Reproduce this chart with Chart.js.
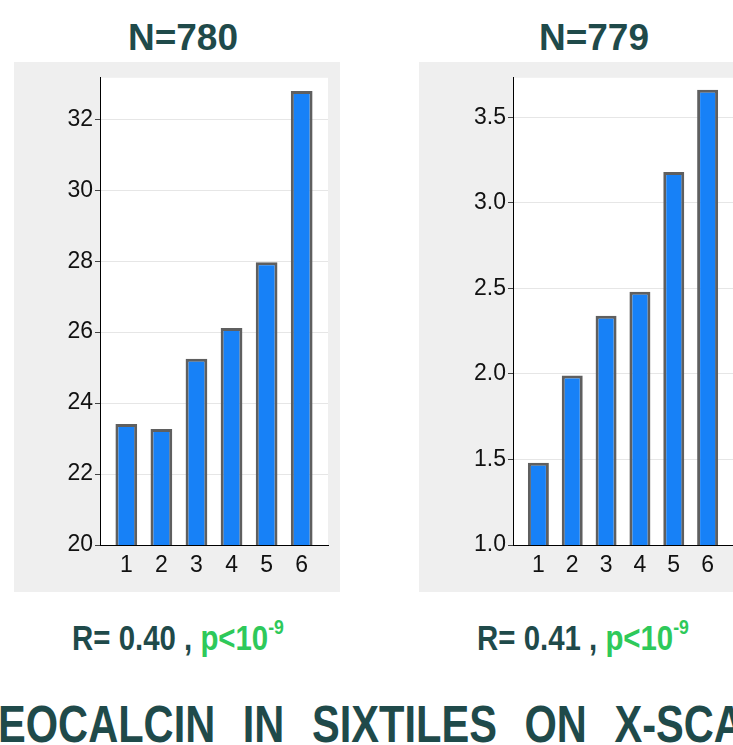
<!DOCTYPE html>
<html>
<head>
<meta charset="utf-8">
<script src="https://cdn.jsdelivr.net/npm/chart.js@4/dist/chart.umd.min.js"></script>
<style>
  html, body { margin: 0; padding: 0; }
  body { width: 733px; height: 745px; overflow: hidden; position: relative; background: #fff;
         font-family: "Liberation Sans", Arial, sans-serif; }
  canvas.panel { position: absolute; top: 62px; background: #efefef; }
  .title { position: absolute; top: 19px; width: 200px; text-align: center; font-weight: bold;
           font-size: 37px; line-height: 37px; color: #1f4a4a; white-space: nowrap; }
  .stat { position: absolute; top: 620px; width: 300px; text-align: center; font-weight: bold;
          font-size: 35px; line-height: 35px; color: #1f4a4a; white-space: nowrap;
          transform: scaleX(0.84); transform-origin: center; }
  .stat .p { color: #2ec95a; }
  .stat sup { font-size: 0.6em; position: relative; top: -0.15em; line-height: 0; vertical-align: super; }
  .caption { position: absolute; left: -2px; top: 698px; font-weight: bold; font-size: 52px; line-height: 52px;
             color: #1f4a4a; white-space: nowrap; word-spacing: 20px;
             transform: scaleX(0.8); transform-origin: left center; }
</style>
</head>
<body>
<div class="title" style="left:83px;">N=780</div>
<div class="title" style="left:494px;">N=779</div>

<canvas id="chartLeft" class="panel" width="326" height="530" style="left:14px;"></canvas>
<canvas id="chartRight" class="panel" width="326" height="530" style="left:419px;"></canvas>

<div class="stat" style="left:28px;">R= 0.40 , <span class="p">p&lt;10<sup>-9</sup></span></div>
<div class="stat" style="left:433px;">R= 0.41 , <span class="p">p&lt;10<sup>-9</sup></span></div>

<div class="caption">EOCALCIN IN SIXTILES ON X-SCAN</div>

<script>
// Sixtile index on the x axis
const categories = [1, 2, 3, 4, 5, 6];

// Mean values per sixtile, left panel (N=780)
const valuesLeft = [23.41, 23.27, 25.25, 26.12, 27.97, 32.80];
const ticksLeft = [20, 22, 24, 26, 28, 30, 32];

// Mean values per sixtile, right panel (N=779)
const valuesRight = [1.48, 1.99, 2.34, 2.48, 3.18, 3.66];
const ticksRight = [1.0, 1.5, 2.0, 2.5, 3.0, 3.5];

const tickFont = { family: '"Liberation Sans", Arial, sans-serif', size: 23 };

// Paints the plot area white on top of the grey panel
const plotBackground = {
  id: 'plotBackground',
  beforeDraw(chart) {
    const { ctx, chartArea: a } = chart;
    ctx.save();
    ctx.fillStyle = '#ffffff';
    ctx.fillRect(a.left, a.top, a.right - a.left, a.bottom - a.top);
    ctx.restore();
  }
};

function buildChart(id, values, yMin, yMax, yTicks, decimals, yAxisWidth) {
  return new Chart(document.getElementById(id), {
    type: 'bar',
    data: {
      datasets: [{
        data: categories.map((c, i) => ({ x: c, y: values[i] })),
        backgroundColor: '#1781f7',
        borderColor: '#5f5f5f',
        borderWidth: 3,
        borderSkipped: false,
        barPercentage: 0.62,
        categoryPercentage: 1
      }]
    },
    options: {
      responsive: false,
      devicePixelRatio: 1,
      animation: false,
      layout: { padding: { top: 13, right: 12, left: 0, bottom: 0 } },
      plugins: { legend: { display: false }, tooltip: { enabled: false }, title: { display: false } },
      scales: {
        x: {
          type: 'linear',
          min: 0.25,
          max: 6.75,
          offset: false,
          grid: { display: false, drawTicks: false },
          border: { display: true, color: '#000', width: 1 },
          ticks: { font: tickFont, color: '#111', padding: 7, maxRotation: 0 },
          afterBuildTicks: s => { s.ticks = categories.map(v => ({ value: v })); },
          afterFit: s => { s.height = 47; }
        },
        y: {
          min: yMin,
          max: yMax,
          grid: { color: '#e6e6e6', lineWidth: 1, tickColor: '#444', tickLength: 5, drawTicks: true },
          border: { display: true, color: '#000', width: 1 },
          ticks: { font: tickFont, color: '#111', padding: 2, callback: v => Number(v).toFixed(decimals) },
          afterBuildTicks: s => { s.ticks = yTicks.map(v => ({ value: v })); },
          afterFit: s => { s.width = yAxisWidth; }
        }
      }
    },
    plugins: [plotBackground]
  });
}

buildChart('chartLeft', valuesLeft, 20, 33.17, ticksLeft, 0, 86);
buildChart('chartRight', valuesRight, 1.0, 3.73, ticksRight, 1, 94);
</script>
</body>
</html>
